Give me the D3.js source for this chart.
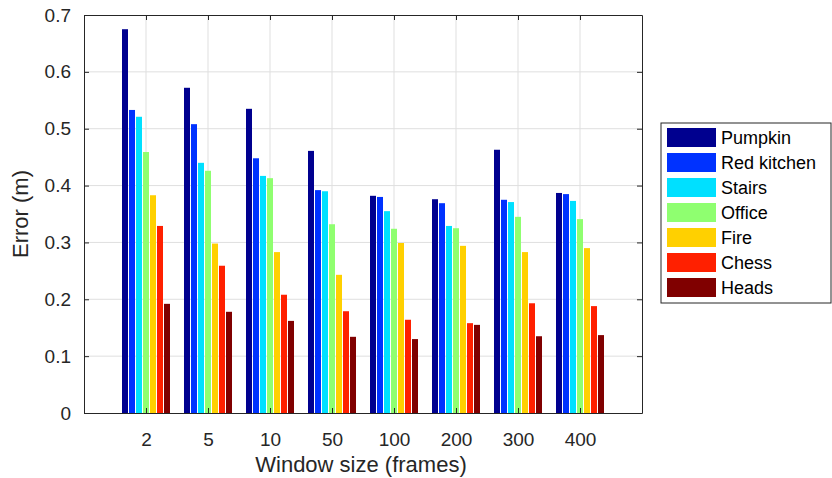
<!DOCTYPE html>
<html>
<head>
<meta charset="utf-8">
<script src="https://cdn.jsdelivr.net/npm/d3@7"></script>
<style>
  body { margin: 0; background: #fff; }
  svg { font-family: "Liberation Sans", Arial, sans-serif; }
</style>
</head>
<body>
<svg id="drawing_region"></svg>
<script>
// window sizes on the x axis
const windows = ["2", "5", "10", "50", "100", "200", "300", "400"];
const scenes = ["Pumpkin", "Red kitchen", "Stairs", "Office", "Fire", "Chess", "Heads"];
const colors = ["#00008f", "#0032ff", "#00e0ff", "#8fff70", "#ffd000", "#ff2000", "#800000"];

// error (m) per scene, one value for each window size
const pumpkin    = [0.675, 0.572, 0.535, 0.461, 0.382, 0.376, 0.463, 0.387];
const redKitchen = [0.533, 0.508, 0.448, 0.392, 0.380, 0.369, 0.375, 0.385];
const stairs     = [0.521, 0.440, 0.417, 0.390, 0.355, 0.329, 0.371, 0.373];
const office     = [0.459, 0.426, 0.413, 0.332, 0.324, 0.325, 0.345, 0.341];
const fire       = [0.383, 0.298, 0.283, 0.243, 0.299, 0.294, 0.283, 0.290];
const chess      = [0.329, 0.259, 0.208, 0.179, 0.164, 0.158, 0.193, 0.188];
const heads      = [0.192, 0.178, 0.162, 0.134, 0.130, 0.155, 0.135, 0.137];
const yTicks = [0, 0.1, 0.2, 0.3, 0.4, 0.5, 0.6, 0.7];

const series = [pumpkin, redKitchen, stairs, office, fire, chess, heads];

const width = 832, height = 478;
const margin = {top: 15, right: 190, bottom: 65, left: 84};
const innerW = width - margin.left - margin.right;
const innerH = height - margin.top - margin.bottom;
const axisColor = "#262626";

const svg = d3.select("#drawing_region")
    .attr("width", width)
    .attr("height", height);

const chart = svg.append("g")
    .attr("transform", `translate(${margin.left}, ${margin.top})`);

// groups sit at 1..8 on a 0..9 range, like matlab's bar()
const xscale = d3.scaleLinear().domain([0, windows.length + 1]).range([0, innerW]);
const yscale = d3.scaleLinear().domain([0, 0.7]).range([innerH, 0]);
const step = 7, barW = 6;

// grid
chart.append("g").selectAll("line")
    .data(windows)
    .join("line")
    .attr("x1", (d, i) => xscale(i + 1)).attr("x2", (d, i) => xscale(i + 1))
    .attr("y1", 0).attr("y2", innerH)
    .attr("stroke", "#dfdfdf").attr("stroke-width", 1);
chart.append("g").selectAll("line")
    .data(yTicks.slice(1, -1))
    .join("line")
    .attr("x1", 0).attr("x2", innerW)
    .attr("y1", d => yscale(d)).attr("y2", d => yscale(d))
    .attr("stroke", "#dfdfdf").attr("stroke-width", 1);

// bars
series.forEach((vals, s) => {
    chart.append("g").selectAll("rect")
        .data(vals)
        .join("rect")
        .attr("x", (d, i) => xscale(i + 1) + (s - 3.5) * step + 0.5)
        .attr("y", d => yscale(d))
        .attr("width", barW)
        .attr("height", d => innerH - yscale(d))
        .attr("fill", colors[s]);
});

// axes (box with inward ticks)
const xBottom = d3.axisBottom(xscale).tickValues(d3.range(1, windows.length + 1))
    .tickFormat(i => windows[i - 1]).tickSizeInner(-5).tickSizeOuter(0).tickPadding(20);
const xTop = d3.axisTop(xscale).tickValues(d3.range(1, windows.length + 1))
    .tickFormat("").tickSizeInner(-5).tickSizeOuter(0);
const yLeft = d3.axisLeft(yscale).tickValues(yTicks)
    .tickFormat(d => d === 0 ? "0" : d3.format(".1f")(d)).tickSizeInner(-5).tickSizeOuter(0).tickPadding(13);
const yRight = d3.axisRight(yscale).tickValues(yTicks)
    .tickFormat("").tickSizeInner(-5).tickSizeOuter(0);

chart.append("g").attr("transform", `translate(0, ${innerH})`).call(xBottom);
chart.append("g").call(xTop);
chart.append("g").call(yLeft);
chart.append("g").attr("transform", `translate(${innerW}, 0)`).call(yRight);

chart.selectAll(".domain").attr("stroke", axisColor);
chart.selectAll(".tick line").attr("stroke", axisColor);
chart.selectAll(".tick text")
    .attr("fill", axisColor)
    .style("font-size", "19px")
    .style("font-family", "Liberation Sans, Arial, sans-serif");

// axis labels
svg.append("text")
    .attr("x", margin.left + xscale((windows.length + 1) / 2) - 2)
    .attr("y", 472)
    .attr("text-anchor", "middle")
    .attr("fill", axisColor)
    .style("font-size", "22px")
    .text("Window size (frames)");

svg.append("text")
    .attr("transform", `translate(28, ${margin.top + innerH / 2}) rotate(-90)`)
    .attr("text-anchor", "middle")
    .attr("fill", axisColor)
    .style("font-size", "22px")
    .text("Error (m)");

// legend
const legend = svg.append("g").attr("transform", "translate(661, 123)");
legend.append("rect")
    .attr("x", 0).attr("y", 0)
    .attr("width", 170).attr("height", 180)
    .attr("fill", "#fff")
    .attr("stroke", axisColor).attr("stroke-width", 1);

const item = legend.selectAll("g.item")
    .data(scenes)
    .join("g")
    .attr("class", "item")
    .attr("transform", (d, i) => `translate(6, ${5 + i * 25})`);
item.append("rect")
    .attr("width", 49).attr("height", 19)
    .attr("fill", (d, i) => colors[i]);
item.append("text")
    .attr("x", 54).attr("y", 9.5)
    .attr("dy", "0.35em")
    .attr("fill", "#000")
    .style("font-size", "18px")
    .text(d => d);
</script>
</body>
</html>
